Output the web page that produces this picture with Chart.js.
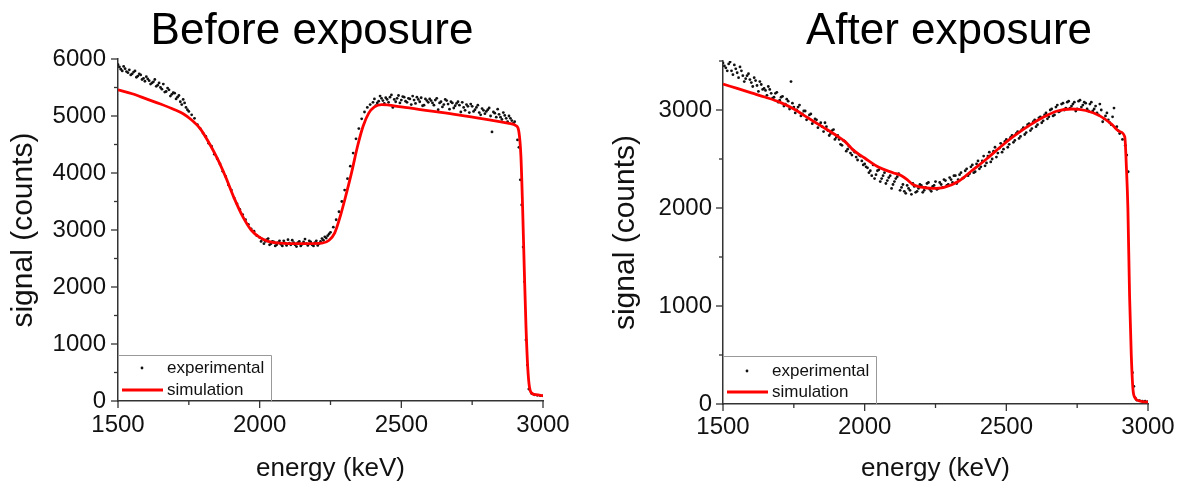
<!DOCTYPE html>
<html>
<head>
<meta charset="utf-8">
<script src="https://cdn.jsdelivr.net/npm/chart.js@4.4.1/dist/chart.umd.min.js"></script>
<style>
  body { margin: 0; background: #fff; }
  #wrap { position: relative; width: 1186px; height: 485px; overflow: hidden; font-family: "Liberation Sans", Arial, sans-serif; }
  .panel { position: absolute; top: 0; width: 593px; height: 485px; }
  .title { position: absolute; top: 7px; font-size: 44px; line-height: 1; text-align: center; color: #000; white-space: nowrap; }
</style>
</head>
<body>
<div id="wrap">
  <div class="panel" style="left:0"><canvas id="before" width="593" height="485"></canvas></div>
  <div class="panel" style="left:593px"><canvas id="after" width="593" height="485"></canvas></div>
  <div class="title" style="left:0;width:624px">Before exposure</div>
  <div class="title" style="left:712px;width:474px">After exposure</div>
</div>
<script>
// ---- before exposure: measured points ----
const energyBefore = [
  1500, 1510, 1520, 1530, 1540, 1550, 1560, 1570, 1580, 1590,
  1600, 1610, 1620, 1630, 1640, 1650, 1660, 1670, 1680, 1690,
  1700, 1710, 1720, 1730, 1740, 1750, 1760, 1770, 1780, 1790,
  1800, 1810, 1820, 1830, 1840, 1850, 1860, 1870, 1880, 1890,
  1900, 1910, 1920, 1930, 1940, 1950, 1960, 1970, 1980, 1990,
  2000, 2010, 2020, 2030, 2040, 2050, 2060, 2070, 2080, 2090,
  2100, 2110, 2120, 2130, 2140, 2150, 2160, 2170, 2180, 2190,
  2200, 2210, 2220, 2230, 2240, 2250, 2260, 2270, 2280, 2290,
  2300, 2310, 2320, 2330, 2340, 2350, 2360, 2370, 2380, 2390,
  2400, 2410, 2420, 2430, 2440, 2450, 2460, 2470, 2480, 2490,
  2500, 2510, 2520, 2530, 2540, 2550, 2560, 2570, 2580, 2590,
  2600, 2610, 2620, 2630, 2640, 2650, 2660, 2670, 2680, 2690,
  2700, 2710, 2720, 2730, 2740, 2750, 2760, 2770, 2780, 2790,
  2800, 2810, 2820, 2830, 2840, 2850, 2860, 2870, 2880, 2890,
  2900, 2910, 2915, 2920, 2925, 2930, 2935, 2940, 2945, 2950,
  2960, 2970, 2980, 2990, 3000
];
const signalBefore = [
  5900, 5820, 5870, 5780, 5810, 5740, 5790, 5700, 5720, 5660,
  5690, 5620, 5580, 5640, 5540, 5500, 5560, 5430, 5460, 5380,
  5400, 5330, 5250, 5290, 5150, 5080, 5020, 4960, 4850, 4780,
  4700, 4640, 4520, 4470, 4330, 4250, 4160, 4030, 3940, 3790,
  3700, 3560, 3460, 3360, 3270, 3180, 3100, 3020, 2980, 2900,
  2870, 2840, 2800, 2850, 2760, 2790, 2740, 2810, 2720, 2770,
  2830, 2740, 2780, 2710, 2800, 2750, 2840, 2730, 2790, 2720,
  2810, 2760, 2850, 2880, 2900, 2960, 3050, 3180, 3320, 3500,
  3700, 3900, 4120, 4350, 4600, 4780, 4950, 5070, 5150, 5200,
  5240, 5180, 5260, 5310, 5220, 5290, 5330, 5150, 5250, 5360,
  5280, 5330, 5240, 5300, 5350, 5220, 5290, 5320, 5190, 5270,
  5300, 5230, 5280, 5110, 5250, 5200, 5270, 5120, 5230, 5180,
  5250, 5070, 5150, 5200, 5060, 5170, 5110, 5190, 5020, 5100,
  5080, 5140, 4720, 5050, 5120, 4980, 5060, 4960, 5000, 4920,
  4900, 4580, 4450, 3880, 3440, 2700, 2090, 1070, 630, 210,
  130, 110, 100, 95, 90
];
// second half-step of channels where the spectrum is dense
const energyBeforeMid = [
  1505, 1515, 1525, 1535, 1545, 1555, 1565, 1575, 1585, 1595,
  1605, 1615, 1625, 1635, 1645, 1655, 1665, 1675, 1685, 1695,
  1705, 1715, 1725, 1735, 1745,
  2005, 2015, 2025, 2035, 2045, 2055, 2065, 2075, 2085, 2095,
  2105, 2115, 2125, 2135, 2145, 2155, 2165, 2175, 2185, 2195,
  2205, 2215, 2225, 2235, 2245,
  2405, 2415, 2425, 2435, 2445, 2455, 2465, 2475, 2485, 2495,
  2505, 2515, 2525, 2535, 2545, 2555, 2565, 2575, 2585, 2595,
  2605, 2615, 2625, 2635, 2645, 2655, 2665, 2675, 2685, 2695,
  2705, 2715, 2725, 2735, 2745, 2755, 2765, 2775, 2785, 2795,
  2805, 2815, 2825, 2835, 2845, 2855, 2865, 2875, 2885, 2895
];
const signalBeforeMid = [
  5860, 5790, 5830, 5760, 5720, 5770, 5680, 5740, 5640, 5610,
  5650, 5560, 5600, 5520, 5580, 5470, 5420, 5490, 5350, 5410,
  5300, 5360, 5200, 5230, 5110,
  2800, 2760, 2830, 2740, 2800, 2720, 2780, 2750, 2810, 2730,
  2770, 2820, 2740, 2780, 2720, 2790, 2760, 2810, 2740, 2780,
  2730, 2800, 2820, 2860, 2930,
  5300, 5230, 5350, 5270, 5320, 5240, 5370, 5290, 5310, 5230,
  5340, 5260, 5310, 5200, 5280, 5330, 5250, 5180, 5300, 5240,
  5270, 5190, 5310, 5230, 5160, 5290, 5210, 5250, 5140, 5220,
  5190, 5240, 5100, 5170, 5210, 5080, 5150, 5060, 5130, 5040,
  5110, 5000, 5070, 4980, 5030, 4940, 5010, 4900, 4960, 4870
];
// ---- before exposure: simulation ----
const simEnergyBefore = [
  1500, 1550, 1600, 1650, 1700, 1730, 1760, 1790, 1820, 1850,
  1880, 1910, 1940, 1970, 2000, 2030, 2070, 2150, 2220, 2245,
  2265, 2285, 2305, 2325, 2345, 2365, 2385, 2405, 2430, 2500,
  2600, 2700, 2800, 2880, 2905, 2915, 2922, 2928, 2934, 2940,
  2946, 2952, 2960, 2975, 3000
];
const simBefore = [
  5460, 5390, 5300, 5210, 5110, 5040, 4930, 4780, 4540, 4260,
  3930, 3560, 3240, 3000, 2870, 2800, 2770, 2760, 2770, 2820,
  2950, 3250, 3620, 4020, 4460, 4820, 5050, 5160, 5200, 5160,
  5090, 5020, 4940, 4870, 4830, 4720, 4300, 3400, 2300, 1300,
  600, 250, 140, 110, 95
];

// ---- after exposure: measured points ----
const energyAfter = [
  1500, 1510, 1520, 1530, 1540, 1550, 1560, 1570, 1580, 1590,
  1600, 1610, 1620, 1630, 1640, 1650, 1660, 1670, 1680, 1690,
  1700, 1710, 1720, 1730, 1740, 1750, 1760, 1770, 1780, 1790,
  1800, 1810, 1820, 1830, 1840, 1850, 1860, 1870, 1880, 1890,
  1900, 1910, 1920, 1930, 1940, 1950, 1960, 1970, 1980, 1990,
  2000, 2010, 2020, 2030, 2040, 2050, 2060, 2070, 2080, 2090,
  2100, 2110, 2120, 2130, 2140, 2150, 2160, 2170, 2180, 2190,
  2200, 2210, 2220, 2230, 2240, 2250, 2260, 2270, 2280, 2290,
  2300, 2310, 2320, 2330, 2340, 2350, 2360, 2370, 2380, 2390,
  2400, 2410, 2420, 2430, 2440, 2450, 2460, 2470, 2480, 2490,
  2500, 2510, 2520, 2530, 2540, 2550, 2560, 2570, 2580, 2590,
  2600, 2610, 2620, 2630, 2640, 2650, 2660, 2670, 2680, 2690,
  2700, 2710, 2720, 2730, 2740, 2750, 2760, 2770, 2780, 2790,
  2800, 2810, 2820, 2830, 2840, 2850, 2860, 2870, 2880, 2890,
  2900, 2910, 2920, 2925, 2930, 2945, 2950, 2955, 2960, 2970,
  2980, 2990, 3000
];
const signalAfter = [
  3480, 3430, 3470, 3400, 3460, 3380, 3440, 3350, 3320, 3370,
  3280, 3330, 3250, 3290, 3210, 3200, 3240, 3170, 3130, 3180,
  3100, 3140, 3060, 3090, 3290, 3030, 3000, 3050, 2960, 2990,
  2920, 2960, 2880, 2900, 2850, 2830, 2870, 2790, 2760, 2800,
  2720, 2700, 2640, 2680, 2600, 2560, 2590, 2520, 2540, 2480,
  2450, 2410, 2380, 2440, 2340, 2390, 2300, 2360, 2280, 2330,
  2240, 2300, 2350, 2210, 2170, 2230, 2180, 2250, 2160, 2200,
  2230, 2180, 2250, 2190, 2220, 2270, 2200, 2240, 2290, 2230,
  2310, 2260, 2330, 2290, 2360, 2310, 2400, 2350, 2440, 2370,
  2480, 2420, 2530, 2460, 2570, 2500, 2620, 2560, 2660, 2600,
  2700, 2650, 2740, 2690, 2780, 2730, 2820, 2770, 2860, 2810,
  2900, 2850, 2930, 2890, 2970, 2930, 3010, 2950, 3050, 2990,
  3070, 3020, 3090, 3040, 3080, 3010, 3100, 3050, 3070, 2990,
  3080, 3010, 2970, 3060, 2880, 2940, 2900, 2850, 3020, 2830,
  2760, 2700, 2640, 2540, 2370, 320, 180, 60, 40, 35,
  30, 30, 25
];
const energyAfterMid = [
  1505, 1515, 1525, 1535, 1545, 1555, 1565, 1575, 1585, 1595,
  1605, 1615, 1625, 1635, 1645, 1655, 1665, 1675, 1685, 1695,
  1705, 1715, 1725, 1735, 1745, 1755, 1765, 1775, 1785, 1795,
  1805, 1815, 1825, 1835, 1845, 1855, 1865, 1875, 1885, 1895,
  1905, 1915, 1925, 1935, 1945, 1955, 1965, 1975, 1985, 1995,
  2005, 2015, 2025, 2035, 2045, 2055, 2065, 2075, 2085, 2095,
  2105, 2115, 2125, 2135, 2145, 2155, 2165, 2175, 2185, 2195,
  2205, 2215, 2225, 2235, 2245, 2255, 2265, 2275, 2285, 2295,
  2305, 2315, 2325, 2335, 2345, 2355, 2365, 2375, 2385, 2395,
  2405, 2415, 2425, 2435, 2445, 2455, 2465, 2475, 2485, 2495,
  2505, 2515, 2525, 2535, 2545, 2555, 2565, 2575, 2585, 2595,
  2605, 2615, 2625, 2635, 2645, 2655, 2665, 2675, 2685, 2695,
  2705, 2715, 2725, 2735, 2745, 2755, 2765, 2775, 2785, 2795,
  2805, 2815, 2825, 2835, 2845, 2855, 2865, 2875, 2885, 2895
];
const signalAfterMid = [
  3450, 3400, 3490, 3360, 3420, 3330, 3400, 3290, 3350, 3310,
  3240, 3300, 3190, 3260, 3220, 3150, 3210, 3120, 3170, 3080,
  3130, 3040, 3110, 3010, 3070, 2970, 3030, 2940, 2990, 2900,
  2950, 2860, 2910, 2820, 2870, 2780, 2830, 2740, 2790, 2700,
  2740, 2650, 2690, 2580, 2630, 2540, 2570, 2490, 2530, 2440,
  2420, 2360, 2330, 2300, 2380, 2270, 2330, 2250, 2310, 2200,
  2270, 2320, 2180, 2240, 2150, 2200, 2140, 2220, 2170, 2240,
  2160, 2210, 2260, 2170, 2230, 2190, 2260, 2210, 2280, 2240,
  2290, 2330, 2250, 2340, 2300, 2380, 2330, 2420, 2360, 2450,
  2400, 2480, 2430, 2530, 2470, 2580, 2520, 2610, 2570, 2680,
  2620, 2720, 2670, 2760, 2710, 2800, 2750, 2850, 2790, 2880,
  2830, 2920, 2870, 2950, 2910, 3000, 2940, 3030, 2980, 3060,
  3000, 3080, 3020, 3060, 2990, 3090, 3030, 3080, 3010, 3060,
  2990, 3040, 2950, 3000, 2910, 2970, 2870, 2930, 2820, 2790
];
// ---- after exposure: simulation ----
const simEnergyAfter = [
  1500, 1550, 1600, 1650, 1700, 1750, 1800, 1850, 1900, 1930,
  1960, 2000, 2050, 2100, 2130, 2150, 2170, 2200, 2240, 2280,
  2330, 2380, 2430, 2480, 2530, 2580, 2630, 2680, 2730, 2780,
  2830, 2870, 2900, 2918, 2924, 2929, 2935, 2941, 2947, 2955,
  2965, 2980, 3000
];
const simAfter = [
  3265, 3220, 3175, 3130, 3080, 3010, 2920, 2830, 2740, 2680,
  2590, 2510, 2415, 2360, 2330, 2290, 2240, 2212, 2200, 2210,
  2270, 2385, 2500, 2625, 2740, 2840, 2925, 2990, 3010, 2995,
  2940, 2860, 2780, 2725, 2400, 2000, 1100, 500, 150, 60,
  35, 25, 20
];

const xTicks = [1500, 2000, 2500, 3000];

Chart.defaults.font.family = "'Liberation Sans', Arial, sans-serif";
Chart.defaults.color = '#111';

const toPoints = (xs, ys) => xs.map((x, i) => ({x: x, y: ys[i]}));

// outward tick marks, long at labelled values, short in between
const tickMarks = {
  id: 'tickMarks',
  afterDraw(chart) {
    const ctx = chart.ctx;
    const xs = chart.scales.x, ys = chart.scales.y;
    ctx.save();
    ctx.strokeStyle = '#333';
    ctx.lineWidth = 1.3;
    xs.ticks.forEach(t => {
      const px = xs.getPixelForValue(t.value);
      const len = t.value % 500 === 0 ? 7 : 4;
      ctx.beginPath(); ctx.moveTo(px, xs.top); ctx.lineTo(px, xs.top + len); ctx.stroke();
    });
    ys.ticks.forEach(t => {
      const py = ys.getPixelForValue(t.value);
      const len = t.value % 1000 === 0 ? 7 : 4;
      ctx.beginPath(); ctx.moveTo(ys.right - len, py); ctx.lineTo(ys.right, py); ctx.stroke();
    });
    ctx.restore();
  }
};

// legend box sitting in the bottom left corner of the plot
const insetLegend = {
  id: 'insetLegend',
  afterDraw(chart, args, opts) {
    const ctx = chart.ctx, a = chart.chartArea;
    const left = a.left, top = a.bottom - opts.height, right = a.left + opts.width;
    ctx.save();
    ctx.strokeStyle = '#999';
    ctx.lineWidth = 1;
    ctx.beginPath();
    ctx.moveTo(left, top + 0.5); ctx.lineTo(right + 0.5, top + 0.5); ctx.lineTo(right + 0.5, a.bottom);
    ctx.stroke();
    ctx.font = '17px "Liberation Sans", Arial, sans-serif';
    ctx.textBaseline = 'middle';
    chart.data.datasets.slice().sort((p, q) => q.order - p.order).forEach((ds, i) => {
      const yy = a.bottom - opts.rows[i];
      if (ds.showLine === false) {
        ctx.beginPath();
        ctx.arc(left + 24, yy, 1.4, 0, Math.PI * 2);
        ctx.fillStyle = ds.backgroundColor;
        ctx.fill();
      } else {
        ctx.beginPath();
        ctx.strokeStyle = ds.borderColor;
        ctx.lineWidth = ds.borderWidth;
        ctx.moveTo(left + 4, yy); ctx.lineTo(left + 45, yy);
        ctx.stroke();
      }
      ctx.fillStyle = '#111';
      ctx.fillText(ds.label, left + 49, yy);
    });
    ctx.restore();
  }
};

function makeChart(id, exE, exS, simE, simS, cfg) {
  return new Chart(document.getElementById(id), {
    type: 'scatter',
    data: {
      datasets: [{
        label: 'simulation',
        type: 'line',
        data: toPoints(simE, simS),
        borderColor: '#ff0000',
        borderWidth: 2.8,
        pointRadius: 0,
        cubicInterpolationMode: 'monotone',
        order: 0
      }, {
        label: 'experimental',
        data: toPoints(exE, exS),
        showLine: false,
        backgroundColor: '#111',
        borderWidth: 0,
        pointRadius: 1.4,
        order: 1
      }]
    },
    options: {
      responsive: false,
      animation: false,
      events: [],
      layout: { padding: { left: 0, right: cfg.padRight, top: cfg.padTop, bottom: 0 } },
      plugins: {
        legend: { display: false },
        tooltip: { enabled: false },
        insetLegend: { width: 153, height: cfg.legendHeight, rows: cfg.legendRows }
      },
      scales: {
        x: {
          type: 'linear', min: 1500, max: 3000,
          ticks: {
            stepSize: 250, autoSkip: false, maxRotation: 0, padding: cfg.xPad,
            font: { size: 24 }, color: '#111',
            callback: v => xTicks.includes(v) ? String(v) : ''
          },
          grid: { display: false, drawTicks: false },
          border: { display: true, color: '#333', width: 1.5 },
          title: { display: true, text: 'energy (keV)', font: { size: 26 }, color: '#111', padding: { top: 0, bottom: 1 } },
          afterFit: s => { s.height = cfg.xHeight; }
        },
        y: {
          min: 0, max: cfg.yMax,
          ticks: {
            stepSize: 500, autoSkip: false, padding: cfg.yPad,
            font: { size: 24 }, color: '#111',
            callback: v => cfg.yTicks.includes(v) ? String(v) : ''
          },
          grid: { display: false, drawTicks: false },
          border: { display: true, color: '#333', width: 1.5 },
          title: { display: true, text: 'signal (counts)', font: { size: 30 }, color: '#111', padding: { top: cfg.yTitlePad, bottom: 0 } },
          afterFit: s => { s.width = cfg.yWidth; }
        }
      }
    },
    plugins: [tickMarks, insetLegend]
  });
}

makeChart('before',
  energyBefore.concat(energyBeforeMid), signalBefore.concat(signalBeforeMid),
  simEnergyBefore, simBefore, {
  yMax: 6000, yTicks: [0, 1000, 2000, 3000, 4000, 5000, 6000],
  padTop: 59, padRight: 50, yWidth: 118, xHeight: 84,
  xPad: 10, yPad: 12, yTitlePad: 6,
  legendHeight: 46, legendRows: [33, 11]
});

makeChart('after',
  energyAfter.concat(energyAfterMid), signalAfter.concat(signalAfterMid),
  simEnergyAfter, simAfter, {
  yMax: 3500, yTicks: [0, 1000, 2000, 3000],
  padTop: 61, padRight: 38, yWidth: 130, xHeight: 81,
  xPad: 9, yPad: 11, yTitlePad: 15,
  legendHeight: 48, legendRows: [33, 12]
});
</script>
</body>
</html>
